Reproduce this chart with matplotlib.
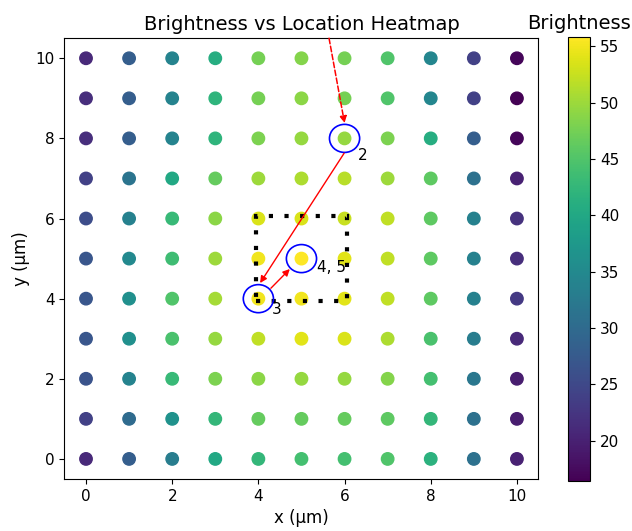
import numpy as np
import matplotlib
matplotlib.use("Agg")
import matplotlib.pyplot as plt
from matplotlib.patches import Circle, Rectangle

x_vals = list(range(11))
y_vals = list(range(11))

# brightness per row (y), columns x = 0..10
brightness_rows = {
    10: [21.0, 28.0, 34.0, 41.0, 47.5, 48.5, 47.5, 45.0, 34.5, 24.0, 17.0],
    9:  [21.5, 28.0, 34.0, 42.0, 47.5, 49.0, 47.5, 45.0, 34.5, 24.0, 16.4],
    8:  [21.5, 28.0, 34.0, 42.0, 48.0, 49.5, 49.5, 48.0, 41.0, 28.0, 17.0],
    7:  [24.0, 31.5, 40.0, 46.5, 50.0, 51.0, 51.5, 50.0, 46.0, 31.0, 20.0],
    6:  [25.5, 33.5, 43.0, 49.0, 53.5, 53.5, 52.5, 52.0, 46.0, 33.5, 22.0],
    5:  [27.0, 35.0, 43.5, 50.0, 55.0, 55.8, 54.0, 52.0, 46.0, 33.5, 21.5],
    4:  [27.0, 36.0, 45.0, 50.5, 55.0, 55.0, 54.0, 52.0, 46.0, 33.5, 23.0],
    3:  [27.0, 36.0, 44.5, 49.5, 52.0, 54.0, 53.5, 51.0, 44.5, 33.0, 21.0],
    2:  [26.5, 34.0, 43.0, 48.0, 49.0, 49.5, 49.5, 48.5, 44.0, 32.0, 19.5],
    1:  [24.0, 30.0, 36.5, 42.5, 46.5, 46.5, 46.5, 46.0, 42.5, 31.0, 19.5],
    0:  [21.0, 28.0, 33.0, 40.0, 42.5, 44.0, 44.0, 45.0, 41.5, 31.0, 20.0],
}

highlight_pts = [(6, 8), (4, 4), (5, 5)]
highlight_labels = ["2", "3", "4, 5"]

X, Y, C = [], [], []
for yv in y_vals:
    for xv, b in zip(x_vals, brightness_rows[yv]):
        X.append(xv); Y.append(yv); C.append(b)

fig = plt.figure(figsize=(6.32, 5.31), dpi=100)
ax = fig.add_axes([0.102, 0.098, 0.750, 0.830])
cax = fig.add_axes([0.899, 0.094, 0.035, 0.836])

sc = ax.scatter(X, Y, c=C, cmap="viridis", s=80, vmin=16.4, vmax=55.8)
cb = fig.colorbar(sc, cax=cax)
cb.set_ticks([20, 25, 30, 35, 40, 45, 50, 55])
cax.tick_params(labelsize=11)
cax.set_title("Brightness", fontsize=14, pad=6)

ax.set_xlim(-0.5, 10.5)
ax.set_ylim(-0.5, 10.5)
ax.set_xticks([0, 2, 4, 6, 8, 10])
ax.set_yticks([0, 2, 4, 6, 8, 10])
ax.tick_params(labelsize=11)
ax.set_xlabel("x (µm)", fontsize=12)
ax.set_ylabel("y (µm)", fontsize=12)
ax.set_title("Brightness vs Location Heatmap", fontsize=14)

r = 0.35
for (px, py) in highlight_pts:
    ax.add_patch(Circle((px, py), r, fill=False, edgecolor="blue", lw=1.2, zorder=4))

label_offsets = [(0.3, -0.42), (0.32, -0.26), (0.36, -0.21)]
for (px, py), lab, (dx, dy) in zip(highlight_pts, highlight_labels, label_offsets):
    ax.text(px + dx, py + dy, lab, fontsize=11, ha="left", va="center", zorder=5)

ax.add_patch(Rectangle((3.95, 3.95), 2.1, 2.12, fill=False, edgecolor="black",
                       lw=3, linestyle=(0, (1, 2.75)), zorder=3))

# dashed arrow into point 2
ax.annotate("", xy=(6.0, 8.38), xytext=(5.64, 10.5),
            arrowprops=dict(arrowstyle="-|>", color="red", lw=1.1, linestyle="--",
                            shrinkA=0, shrinkB=0, mutation_scale=10), zorder=5)
# solid arrow from 2 to 3
ax.annotate("", xy=(4.04, 4.39), xytext=(5.99, 7.63),
            arrowprops=dict(arrowstyle="-|>", color="red", lw=1.0,
                            shrinkA=0, shrinkB=0, mutation_scale=10), zorder=5)
# arrow from 3 to 4,5
ax.annotate("", xy=(4.73, 4.74), xytext=(4.29, 4.26),
            arrowprops=dict(arrowstyle="-|>", color="red", lw=1.0,
                            shrinkA=0, shrinkB=0, mutation_scale=10), zorder=5)

fig.savefig("out.png", dpi=100)
